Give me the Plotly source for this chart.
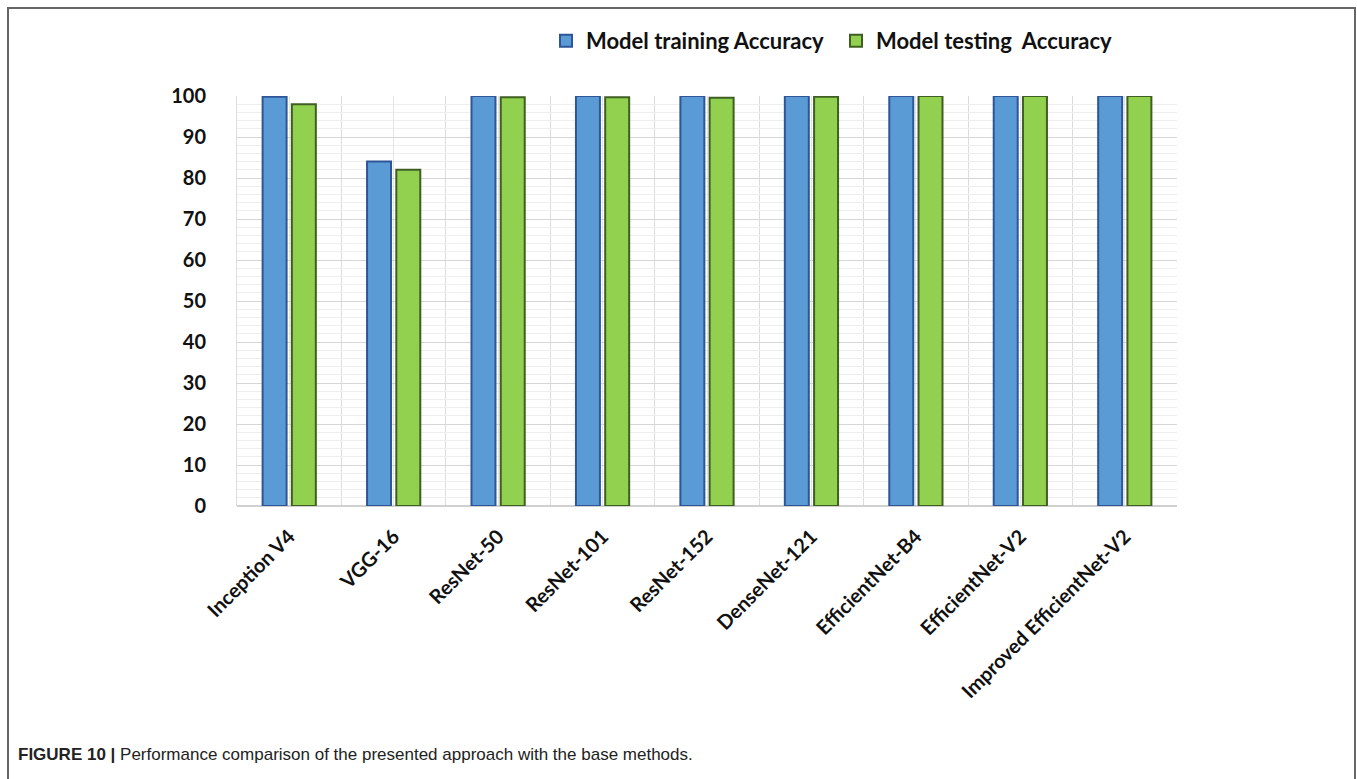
import plotly.graph_objects as go

# Models compared
models = ["Inception V4", "VGG-16", "ResNet-50", "ResNet-101", "ResNet-152",
          "DenseNet-121", "EfficientNet-B4", "EfficientNet-V2", "Improved EfficientNet-V2"]

# Accuracy (%) per model
train_acc = [99.8, 84.0, 100.0, 100.0, 100.0, 100.0, 100.0, 100.0, 100.0]
test_acc = [98.0, 82.0, 99.7, 99.7, 99.6, 99.8, 100.0, 100.0, 100.0]

y_ticks = list(range(0, 101, 10))

positions = list(range(len(models)))

fig = go.Figure()
fig.add_trace(go.Bar(
    x=positions, y=train_acc, name="Model training Accuracy",
    marker=dict(color="#5b9bd5", line=dict(color="#2e5597", width=2)),
))
fig.add_trace(go.Bar(
    x=positions, y=test_acc, name="Model testing  Accuracy",
    marker=dict(color="#92d050", line=dict(color="#3f5f22", width=2)),
))

L, T, W, H = 237, 96, 940, 410


def px_x(p):
    return (p - L) / W


def px_y(p):
    return (T + H - p) / H


fig.update_layout(
    width=1357, height=779,
    margin=dict(l=L, r=1357 - L - W, t=T, b=779 - T - H),
    paper_bgcolor="white", plot_bgcolor="white",
    barmode="group", bargap=0.44, bargroupgap=0.18,
    font=dict(family="Lato, Open Sans, sans-serif", color="#111111"),
    showlegend=True,
    legend=dict(
        orientation="h", x=px_x(546), y=px_y(20), xanchor="left", yanchor="top",
        font=dict(size=22, family="Lato", weight="bold", color="#111111"),
        bgcolor="rgba(0,0,0,0)", itemwidth=30, entrywidth=245, entrywidthmode="pixels",
    ),
    xaxis=dict(
        range=[-0.5, len(models) - 0.5],
        tickvals=positions, ticktext=models, tickangle=-45,
        tickfont=dict(size=20, family="Lato", weight="bold", color="#111111"),
        showgrid=True, gridcolor="#e4e4e4", gridwidth=1,
        minor=dict(tick0=0.5, dtick=1, showgrid=True, gridcolor="#dcdcdc", gridwidth=1),
        showline=False, zeroline=False, ticks="", ticklen=0, ticklabelstandoff=14,
    ),
    yaxis=dict(
        range=[0, 100], tickvals=y_ticks,
        tickfont=dict(size=20, family="Lato", weight="bold", color="#111111"),
        showgrid=True, gridcolor="#d6d6d6", gridwidth=1,
        minor=dict(dtick=2, showgrid=True, gridcolor="#eeeeee", gridwidth=1),
        zeroline=True, zerolinecolor="#d0d0d0", zerolinewidth=2,
        showline=True, linecolor="#dddddd", ticks="", ticklabelstandoff=26,
    ),
)

# Frame around the figure panel
fig.add_shape(
    type="rect", xref="paper", yref="paper",
    x0=px_x(8), x1=px_x(1355), y0=px_y(800), y1=px_y(8),
    line=dict(color="#666666", width=2), fillcolor="rgba(0,0,0,0)", layer="above",
)

# Figure caption
fig.add_annotation(
    xref="paper", yref="paper", x=px_x(16), y=px_y(754),
    xanchor="left", yanchor="middle", showarrow=False,
    text="<b>FIGURE 10 |</b> Performance comparison of the presented approach with the base methods.",
    font=dict(family="Liberation Sans, Arial, sans-serif", size=17, color="#222222"),
)

fig.write_html("out.html")
